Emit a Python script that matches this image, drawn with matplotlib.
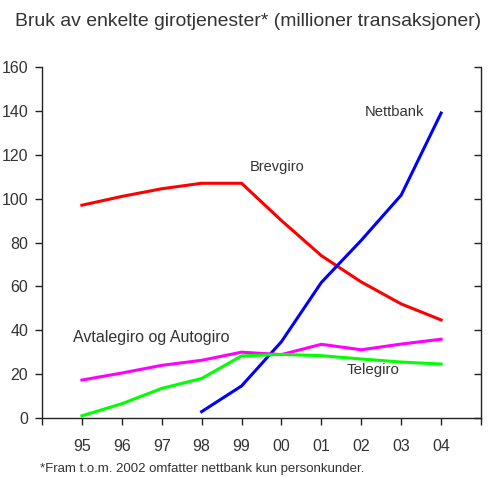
import matplotlib
matplotlib.use("Agg")
import matplotlib.pyplot as plt

plt.rcParams['font.family'] = ['Liberation Sans', 'DejaVu Sans']

years = ['95', '96', '97', '98', '99', '00', '01', '02', '03', '04']
brevgiro = [97, 101, 104.5, 107, 107, 90, 74, 62, 52, 44.7]
nettbank = [None, None, None, 2.9, 14.6, 34.8, 61.8, 81, 101.6, 139]
avtalegiro = [17.3, 20.5, 24, 26.3, 30, 28.9, 33.6, 31.1, 33.7, 35.9]
telegiro = [1, 6.5, 13.5, 18, 28.3, 29, 28.4, 26.9, 25.5, 24.6]
yticks = [0, 20, 40, 60, 80, 100, 120, 140, 160]

txt = '#333333'
fig = plt.figure(figsize=(4.9, 4.78), dpi=100)
ax = fig.add_axes([42/490, 1-418/478, (481-42)/490, (418-67)/478])
x = list(range(len(years)))

def plot_series(vals, color):
    xs = [i for i, v in zip(x, vals) if v is not None]
    ys = [v for v in vals if v is not None]
    ax.plot(xs, ys, color=color, lw=2.2, solid_joinstyle='miter')

plot_series(brevgiro, '#ff0000')
plot_series(nettbank, '#0000ff')
plot_series(avtalegiro, '#ff00ff')
plot_series(telegiro, '#00ff00')

ax.set_xlim(-1, 10)
ax.set_ylim(0, 160)
ax.set_yticks(yticks)
ax.set_xticks(range(-1, 11))
ax.set_xticklabels([''] + years + [''])
ax.spines['top'].set_visible(False)
for s in ['left', 'right', 'bottom']:
    ax.spines[s].set_color('#222222')
    ax.spines[s].set_linewidth(1.0)
ax.tick_params(axis='both', colors='#222222', labelcolor=txt, labelsize=11.5, length=5, width=1)
ax.tick_params(axis='x', pad=10)
ax.tick_params(axis='y', pad=5, right=False)
ax2 = ax.twinx()
ax2.set_ylim(0, 160)
ax2.set_yticks(yticks)
ax2.set_yticklabels([])
ax2.tick_params(axis='y', direction='in', length=5, width=1, colors='#222222')
for s in ax2.spines.values():
    s.set_visible(False)

labels = [
    ax.text(7.09, 139.5, 'Nettbank', color=txt, va='center', ha='left'),
    ax.text(4.21, 114.4, 'Brevgiro', color=txt, va='center', ha='left'),
    ax.text(-0.23, 36.5, 'Avtalegiro og Autogiro', color=txt, va='center', ha='left'),
    ax.text(6.64, 21.9, 'Telegiro', color=txt, va='center', ha='left'),
]
widths = [59, 55, 157, 53]

title = fig.text(15/490, 1-22/478, 'Bruk av enkelte girotjenester* (millioner transaksjoner)',
                 color=txt, va='center', ha='left')
foot = fig.text(40/490, 1-469/478, '*Fram t.o.m. 2002 omfatter nettbank kun personkunder.',
                color=txt, va='center', ha='left')

renderer = fig.canvas.get_renderer()
def fit(t, w):
    t.set_fontsize(10)
    cur = t.get_window_extent(renderer).width
    t.set_fontsize(10 * w / cur)

for t, w in zip(labels, widths):
    fit(t, w)
fit(title, 467)
fit(foot, 326)

fig.savefig('out.png', dpi=100)
